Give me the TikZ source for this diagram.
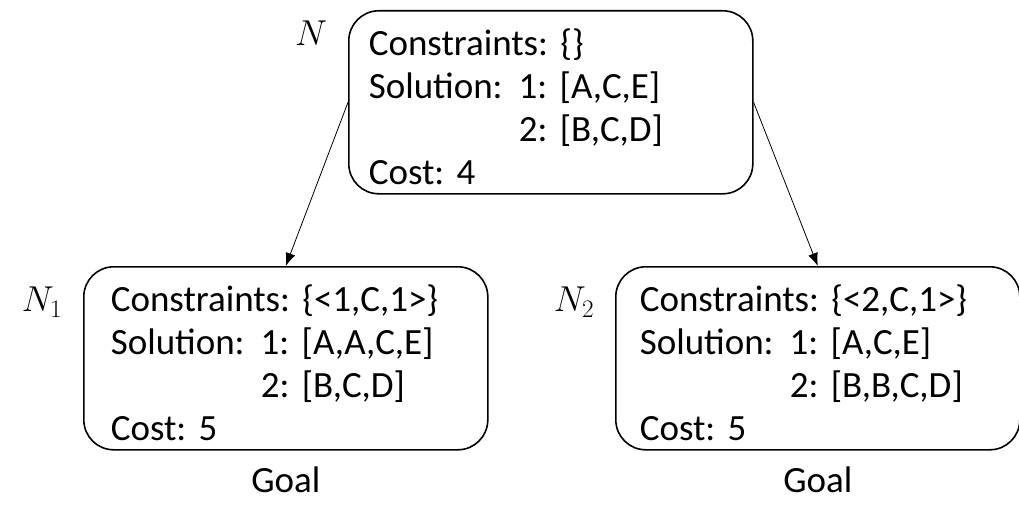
\RequirePackage{fix-cm}
\documentclass[tikz,border=0pt]{standalone}
\usepackage{fontspec}
\setmainfont{Carlito}[WordSpace=0.45]
\usepackage{tikz}
\usetikzlibrary{positioning}
\usetikzlibrary{arrows.meta}
\frenchspacing

\tikzset{
  cbsbox/.style={draw, line width=1.6pt, rounded corners=30pt, align=left,
    anchor=north west, inner ysep=0pt, inner xsep=#1, text width={404-2*#1},
    text height=45pt, text depth=138pt, font=\fontsize{37}{43}\selectfont},
  nlab/.style={font=\fontsize{36}{40}\selectfont, inner sep=0pt},
  goal/.style={font=\fontsize{37}{43}\selectfont, inner sep=0pt, anchor=base}
}
\newcommand{\solcol}[1]{\makebox[150pt][l]{#1}}

\begin{document}
\begin{tikzpicture}[x=1pt,y=-1pt,>={Latex[length=13pt,width=10pt]}]
  \useasboundingbox (0,0) rectangle (1019,527);
  % root of the constraint tree
  \node[cbsbox=20pt] (n) at (348,10) {Constraints: \{\}\\
    \solcol{Solution:}1: [A,C,E]\\ \solcol{}2: [B,C,D]\\ Cost: 4};
  \node[nlab] (ln) at (311,33) {$N$};
  % children
  \node[cbsbox=27pt] (n1) at (83,266) {Constraints: \{<1,C,1>\}\\
    \solcol{Solution:}1: [A,A,C,E]\\ \solcol{}2: [B,C,D]\\ Cost: 5};
  \node[nlab] (ln1) at (42,302) {$N_1$};
  \node[cbsbox=24pt] (n2) at (615,266) {Constraints: \{<2,C,1>\}\\
    \solcol{Solution:}1: [A,C,E]\\ \solcol{}2: [B,B,C,D]\\ Cost: 5};
  \node[nlab] (ln2) at (574,302) {$N_2$};
  \node[goal] (g1) at ([yshift=-42pt]n1.south) {Goal};
  \node[goal] (g2) at ([yshift=-42pt]n2.south) {Goal};
  \draw[->, line width=0.8pt] (n.west) -- (n1.north);
  \draw[->, line width=0.8pt] (n.east) -- (n2.north);
\end{tikzpicture}
\end{document}
